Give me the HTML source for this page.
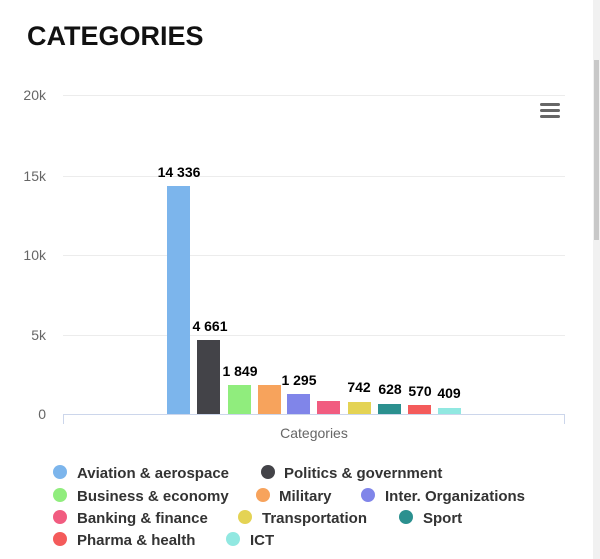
<!DOCTYPE html>
<html><head><meta charset="utf-8"><style>
body{margin:0;background:#fff;width:600px;height:559px;overflow:hidden;font-family:"Liberation Sans",sans-serif;}
</style></head><body>
<svg width="600" height="559" xmlns="http://www.w3.org/2000/svg" style="position:absolute;left:0;top:0">
<rect x="593" y="0" width="7" height="559" fill="#f1f1f1"/>
<rect x="594" y="60" width="5" height="180" fill="#c8c8c8"/>
<text x="27" y="45" font-size="27" font-weight="bold" fill="#111" font-family="Liberation Sans">CATEGORIES</text>
<g stroke="#ececec" stroke-width="1">
<line x1="63" y1="95.5" x2="565" y2="95.5"/>
<line x1="63" y1="176.5" x2="565" y2="176.5"/>
<line x1="63" y1="255.5" x2="565" y2="255.5"/>
<line x1="63" y1="335.5" x2="565" y2="335.5"/>
</g>
<line x1="63" y1="414.5" x2="565" y2="414.5" stroke="#ccd6eb"/>
<line x1="63.5" y1="414" x2="63.5" y2="424" stroke="#ccd6eb"/>
<line x1="564.5" y1="414" x2="564.5" y2="424" stroke="#ccd6eb"/>
<g font-size="14" fill="#666" text-anchor="end">
<text x="46" y="100">20k</text><text x="46" y="181">15k</text><text x="46" y="260">10k</text><text x="46" y="340">5k</text><text x="46" y="419">0</text>
</g>
<text x="314" y="438" font-size="14" fill="#666" text-anchor="middle">Categories</text>
<g fill="#666"><rect x="540" y="103" width="20" height="3" rx="1.5"/><rect x="540" y="109" width="20" height="3" rx="1.5"/><rect x="540" y="115" width="20" height="3" rx="1.5"/></g>
<g>
<rect x="167" y="186" width="23" height="228" fill="#7cb5ec"/>
<rect x="197" y="340" width="23" height="74" fill="#434348"/>
<rect x="228" y="385" width="23" height="29" fill="#90ed7d"/>
<rect x="258" y="385" width="23" height="29" fill="#f7a35c"/>
<rect x="287" y="394" width="23" height="20" fill="#8085e9"/>
<rect x="317" y="401" width="23" height="13" fill="#f15c80"/>
<rect x="348" y="402" width="23" height="12" fill="#e4d354"/>
<rect x="378" y="404" width="23" height="10" fill="#2b908f"/>
<rect x="408" y="405" width="23" height="9" fill="#f45b5b"/>
<rect x="438" y="408" width="23" height="6" fill="#91e8e1"/>
</g>
<g font-size="14" font-weight="bold" fill="#000" text-anchor="middle">
<text x="179" y="177">14 336</text>
<text x="210" y="331">4 661</text>
<text x="240" y="376">1 849</text>
<text x="299" y="385">1 295</text>
<text x="359" y="392">742</text>
<text x="390" y="394">628</text>
<text x="420" y="396">570</text>
<text x="449" y="398">409</text>
</g>
<g font-size="15" font-weight="bold" fill="#333">
<circle cx="60" cy="472" r="7" fill="#7cb5ec"/><text x="77" y="478">Aviation &amp; aerospace</text>
<circle cx="268" cy="472" r="7" fill="#434348"/><text x="284" y="478">Politics &amp; government</text>
<circle cx="60" cy="495" r="7" fill="#90ed7d"/><text x="77" y="501">Business &amp; economy</text>
<circle cx="263" cy="495" r="7" fill="#f7a35c"/><text x="279" y="501">Military</text>
<circle cx="368" cy="495" r="7" fill="#8085e9"/><text x="385" y="501">Inter. Organizations</text>
<circle cx="60" cy="517" r="7" fill="#f15c80"/><text x="77" y="523">Banking &amp; finance</text>
<circle cx="245" cy="517" r="7" fill="#e4d354"/><text x="262" y="523">Transportation</text>
<circle cx="406" cy="517" r="7" fill="#2b908f"/><text x="423" y="523">Sport</text>
<circle cx="60" cy="539" r="7" fill="#f45b5b"/><text x="77" y="545">Pharma &amp; health</text>
<circle cx="233" cy="539" r="7" fill="#91e8e1"/><text x="250" y="545">ICT</text>
</g>
</svg>
</body></html>
